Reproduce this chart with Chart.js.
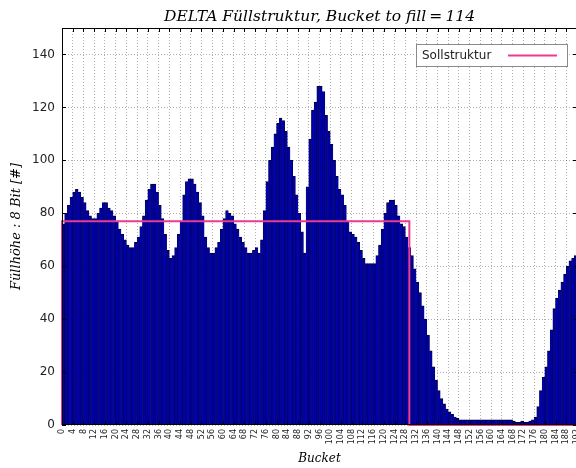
<!DOCTYPE html>
<html>
<head>
<meta charset="utf-8">
<script src="https://cdn.jsdelivr.net/npm/chart.js@4.4.1/dist/chart.umd.min.js"></script>
<style>
  html, body { margin: 0; padding: 0; background: #fff; overflow: hidden; width: 576px; height: 468px; }
  canvas { display: block; }
</style>
</head>
<body>
<canvas id="chart" width="639" height="468"></canvas>
<script>
// Measured fill height per bucket (8 bit), buckets 0..191
const bucketCount = 192;
const fillHeights = [
  76, 80, 83, 86, 88, 89, 88, 86, 84, 81,
  79, 78, 78, 80, 82, 84, 84, 82, 81, 79,
  77, 74, 72, 70, 68, 67, 67, 69, 71, 75,
  79, 85, 89, 91, 91, 88, 83, 78, 72, 66,
  63, 64, 67, 72, 77, 87, 92, 93, 93, 91,
  88, 84, 79, 71, 67, 65, 65, 67, 69, 74,
  78, 81, 80, 79, 76, 74, 71, 69, 67, 65,
  65, 66, 67, 65, 70, 81, 92, 100, 105, 110,
  114, 116, 115, 111, 105, 100, 94, 87, 80, 73,
  65, 90, 108, 119, 122, 128, 128, 126, 117, 111,
  106, 100, 94, 89, 87, 83, 77, 73, 72, 71,
  69, 66, 63, 61, 61, 61, 61, 64, 68, 74,
  80, 84, 85, 85, 83, 79, 76, 75, 71, 67,
  64, 59, 54, 50, 45, 40, 34, 28, 22, 17,
  13, 10, 8, 6, 5, 4, 3, 2.5, 2, 2,
  2, 2, 2, 2, 2, 2, 2, 2, 2, 2,
  2, 2, 2, 2, 2, 2, 2, 2, 1.5, 1,
  1, 1.5, 1, 1, 1.5, 2, 3, 7, 13, 18,
  22, 28, 36, 44, 48, 51, 54, 57, 60, 62,
  63, 64
];

// Target fill pattern: constant level up to the last filled bucket edge, empty after
const sollLevel = 77;
const sollEnd = 129.5;

const xTickValues = [0, 4, 8, 12, 16, 20, 24, 28, 32, 36, 40, 44, 48, 52, 56, 60, 64, 68, 72, 76,
  80, 84, 88, 92, 96, 100, 104, 108, 112, 116, 120, 124, 128, 132, 136, 140, 144, 148, 152, 156,
  160, 164, 168, 172, 176, 180, 184, 188, 192];
const yTickValues = [0, 20, 40, 60, 80, 100, 120, 140];
const yMax = 150;

const titleText = 'DELTA Füllstruktur, Bucket to fill\u2009=\u2009114';
const xTitleText = 'Bucket';
const yTitleText = 'Füllhöhe : 8 Bit [#]';
const sollLabel = 'Sollstruktur';

const barPoints = fillHeights.map((v, i) => ({ x: i + 0.5, y: v }));
const sollPoints = [
  { x: 0, y: 0 }, { x: 0, y: sollLevel },
  { x: sollEnd, y: sollLevel }, { x: sollEnd, y: 0 },
  { x: bucketCount, y: 0 }
];

const serif = 'DejaVu Serif';
const sans = 'DejaVu Sans';
const pink = '#ec3a93';

// Axes frame with inward tick marks on all four sides
const framePlugin = {
  id: 'frame',
  afterDatasetsDraw(chart) {
    const { ctx, chartArea: a, scales: { x, y } } = chart;
    ctx.save();
    ctx.strokeStyle = '#000';
    ctx.lineWidth = 1;
    ctx.strokeRect(a.left + 0.5, a.top + 0.5, a.right - a.left - 1, a.bottom - a.top - 1);
    ctx.beginPath();
    xTickValues.forEach(v => {
      const px = Math.round(x.getPixelForValue(v)) + 0.5;
      ctx.moveTo(px, a.top); ctx.lineTo(px, a.top + 4);
      ctx.moveTo(px, a.bottom); ctx.lineTo(px, a.bottom - 4);
    });
    yTickValues.forEach(v => {
      const py = Math.round(y.getPixelForValue(v)) + 0.5;
      ctx.moveTo(a.left, py); ctx.lineTo(a.left + 4, py);
      ctx.moveTo(a.right, py); ctx.lineTo(a.right - 4, py);
    });
    ctx.stroke();
    ctx.restore();
  }
};

// Legend box in the upper right: label text followed by a line sample
const sollLegendPlugin = {
  id: 'sollLegend',
  afterDraw(chart) {
    const { ctx, chartArea: a } = chart;
    const ds = chart.data.datasets[0];
    const w = 152, h = 23;
    const bx = a.right - 9 - w, by = a.top + 16;
    ctx.save();
    ctx.fillStyle = '#fff';
    ctx.fillRect(bx, by, w, h);
    ctx.strokeStyle = '#8a8a8a';
    ctx.lineWidth = 1;
    ctx.strokeRect(bx + 0.5, by + 0.5, w - 1, h - 1);
    ctx.fillStyle = '#222';
    ctx.font = '12px "' + sans + '"';
    ctx.textBaseline = 'middle';
    ctx.textAlign = 'left';
    ctx.fillText(ds.label, bx + 6, by + h / 2);
    ctx.strokeStyle = ds.borderColor;
    ctx.lineWidth = 2;
    ctx.beginPath();
    ctx.moveTo(bx + 92, by + h / 2);
    ctx.lineTo(bx + 141, by + h / 2);
    ctx.stroke();
    ctx.restore();
  }
};

new Chart(document.getElementById('chart'), {
  type: 'bar',
  data: {
    datasets: [
      {
        type: 'line',
        label: sollLabel,
        data: sollPoints,
        borderColor: pink,
        borderWidth: 2,
        pointRadius: 0,
        fill: false,
        tension: 0,
        clip: 3,
        order: 0
      },
      {
        type: 'bar',
        label: 'Füllhöhe',
        data: barPoints,
        backgroundColor: '#0000a8',
        borderColor: '#000034',
        borderWidth: { left: 0.5, right: 0.5, top: 1, bottom: 0 },
        barPercentage: 1,
        categoryPercentage: 1,
        order: 1
      }
    ]
  },
  options: {
    responsive: false,
    animation: false,
    devicePixelRatio: 1,
    layout: { padding: 0 },
    plugins: {
      legend: { display: false },
      tooltip: { enabled: false },
      title: {
        display: true,
        text: titleText,
        color: '#000',
        font: { family: serif, style: 'italic', weight: 'normal', size: 15.5 },
        padding: { top: 8, bottom: 1.4 }
      }
    },
    scales: {
      x: {
        type: 'linear',
        min: 0,
        max: bucketCount,
        offset: false,
        grid: { offset: false, color: 'rgba(0,0,0,0.45)', lineWidth: 0.7, drawTicks: false },
        border: { display: false, dash: [1, 2] },
        ticks: {
          autoSkip: false,
          minRotation: 90,
          maxRotation: 90,
          padding: 4,
          color: '#222',
          font: { family: sans, size: 8 },
          callback: v => String(v)
        },
        afterBuildTicks: s => { s.ticks = xTickValues.map(v => ({ value: v })); },
        afterFit: s => { s.height = 43; },
        title: {
          display: true,
          text: xTitleText,
          color: '#000',
          font: { family: serif, style: 'italic', size: 12 },
          padding: { top: 0, bottom: 2 }
        }
      },
      y: {
        min: 0,
        max: yMax,
        grid: { color: 'rgba(0,0,0,0.45)', lineWidth: 0.7, drawTicks: false },
        border: { display: false, dash: [1, 2] },
        ticks: {
          padding: 7,
          color: '#222',
          font: { family: sans, size: 12 }
        },
        afterBuildTicks: s => { s.ticks = yTickValues.map(v => ({ value: v })); },
        afterFit: s => { s.width = 62; },
        title: {
          display: true,
          text: yTitleText,
          color: '#000',
          font: { family: serif, style: 'italic', size: 13 },
          padding: { top: 8.5, bottom: 0 }
        }
      },
      // Empty right-hand margin so the plot sits centred under the title
      yRight: {
        position: 'right',
        min: 0,
        max: yMax,
        grid: { display: false, drawTicks: false },
        border: { display: false },
        ticks: { display: false },
        afterFit: s => { s.width = 62; }
      }
    }
  },
  plugins: [framePlugin, sollLegendPlugin]
});
</script>
</body>
</html>
